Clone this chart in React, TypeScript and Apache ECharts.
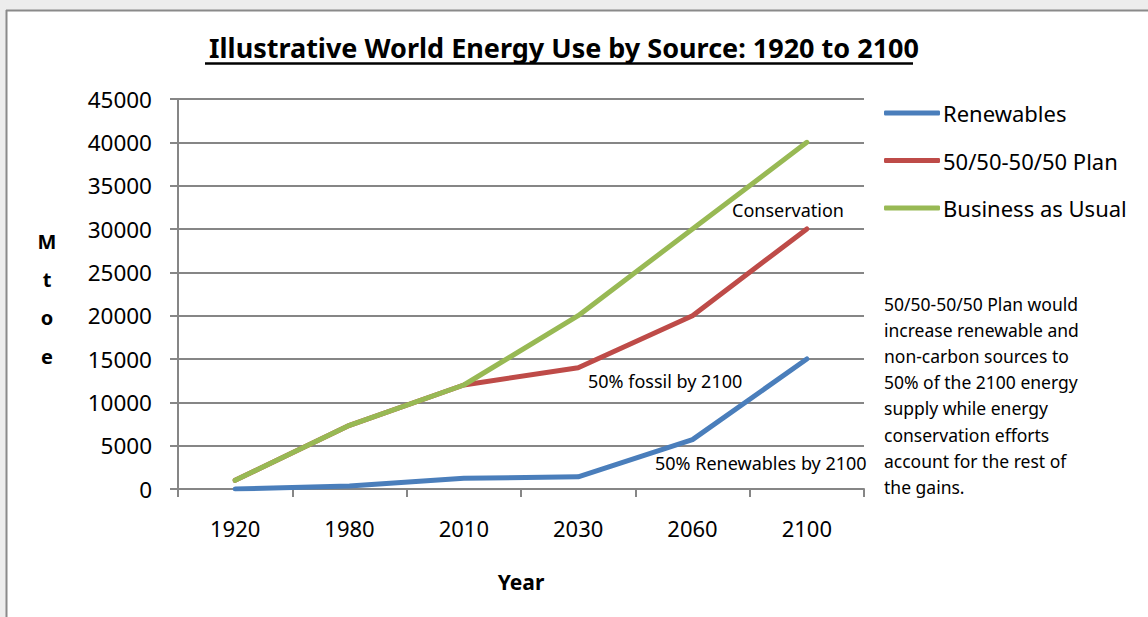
import React, { useEffect, useRef } from "react";
import * as echarts from "echarts";

const years = ["1920", "1980", "2010", "2030", "2060", "2100"];
const renewables = [0, 350, 1250, 1400, 5700, 15000];
const plan5050 = [1000, 7350, 12000, 14000, 20000, 30000];
const businessAsUsual = [1000, 7350, 12000, 20000, 30000, 40000];
const seriesNames = ["Renewables", "50/50-50/50 Plan", "Business as Usual"];
const seriesColors = ["#4a7ebb", "#be4b48", "#98b954"];
const titleText = "Illustrative World Energy Use by Source: 1920 to 2100";
const noteLines = [
  "50/50-50/50 Plan would",
  "increase renewable and",
  "non-carbon sources to",
  "50% of the 2100 energy",
  "supply while energy",
  "conservation efforts",
  "account for the rest of",
  "the gains.",
];

const FONT = "'Noto Sans', 'Open Sans', sans-serif";
const GRID_COLOR = "#868686";

export default function App() {
  const ref = useRef<HTMLDivElement>(null);

  useEffect(() => {
    if (!ref.current) return;
    const chart = echarts.init(ref.current, null, { renderer: "svg" });
    const data = [renewables, plan5050, businessAsUsual];
    chart.setOption({
      animation: false,
      backgroundColor: "#ffffff",
      textStyle: { fontFamily: FONT },
      title: {
        text: titleText,
        left: 559,
        textAlign: "center",
        top: 29,
        textStyle: { fontFamily: FONT, fontWeight: "bold", fontSize: 27, color: "#000" },
      },
      legend: {
        orient: "vertical",
        left: 879,
        top: 96,
        itemWidth: 56,
        itemHeight: 5,
        itemGap: 23.5,
        icon: "roundRect",
        data: seriesNames,
        textStyle: { fontFamily: FONT, fontSize: 22, color: "#000", lineHeight: 24, padding: [0, 0, 0, -2] },
      },
      grid: { left: 178, right: 284, top: 99, bottom: 128, containLabel: false },
      xAxis: {
        type: "category",
        data: years,
        boundaryGap: true,
        axisLine: { show: true, lineStyle: { color: GRID_COLOR, width: 2 } },
        axisTick: { show: true, length: 8, lineStyle: { color: GRID_COLOR, width: 2 } },
        axisLabel: { fontFamily: FONT, fontSize: 22, color: "#000", margin: 28 },
        name: "Year",
        nameLocation: "middle",
        nameGap: 82,
        nameTextStyle: { fontFamily: FONT, fontSize: 21, fontWeight: "bold", color: "#000" },
      },
      yAxis: {
        type: "value",
        min: 0,
        max: 45000,
        interval: 5000,
        axisLine: { show: true, lineStyle: { color: GRID_COLOR, width: 2 } },
        axisTick: { show: true, length: 8, lineStyle: { color: GRID_COLOR, width: 2 } },
        axisLabel: {
          fontFamily: FONT,
          fontSize: 22.5,
          color: "#000",
          margin: 26,
          formatter: (v: number) => String(v),
        },
        splitLine: { show: true, lineStyle: { color: GRID_COLOR, width: 2 } },
      },
      series: seriesNames.map((name, i) => ({
        name,
        type: "line",
        data: data[i],
        symbol: "none",
        color: seriesColors[i],
        lineStyle: { width: 5, color: seriesColors[i], cap: "round", join: "round" },
        z: 3 + i,
      })),
      graphic: [
        { type: "rect", shape: { x: 0, y: 0, width: 1148, height: 10 }, style: { fill: "#ededed" }, silent: true },
        { type: "rect", shape: { x: 0, y: 0, width: 6, height: 617 }, style: { fill: "#ededed" }, silent: true },
        { type: "line", shape: { x1: 6, y1: 10.5, x2: 1148, y2: 10.5 }, style: { stroke: "#8a8a8a", lineWidth: 2 }, silent: true },
        { type: "line", shape: { x1: 6.5, y1: 10, x2: 6.5, y2: 617 }, style: { stroke: "#8a8a8a", lineWidth: 2 }, silent: true },
        { type: "line", shape: { x1: 205, y1: 63.5, x2: 913, y2: 63.5 }, style: { stroke: "#000", lineWidth: 2.5 }, silent: true },
        {
          type: "text",
          x: 47,
          y: 222,
          style: {
            text: "M\nt\no\ne",
            fontFamily: FONT,
            fontSize: 20,
            fontWeight: "bold",
            lineHeight: 38.3,
            fill: "#000",
            align: "center",
            verticalAlign: "top",
          },
        },
        {
          type: "text",
          x: 732,
          y: 210,
          style: { text: "Conservation", fontFamily: FONT, fontSize: 18, fill: "#000", align: "left", verticalAlign: "middle" },
        },
        {
          type: "text",
          x: 588,
          y: 381,
          style: { text: "50% fossil by 2100", fontFamily: FONT, fontSize: 18, fill: "#000", align: "left", verticalAlign: "middle" },
        },
        {
          type: "text",
          x: 655,
          y: 463,
          style: { text: "50% Renewables by 2100", fontFamily: FONT, fontSize: 18, fill: "#000", align: "left", verticalAlign: "middle" },
        },
        {
          type: "text",
          x: 884,
          y: 291,
          style: {
            text: noteLines.join("\n"),
            fontFamily: FONT,
            fontSize: 17.5,
            lineHeight: 26.1,
            fill: "#000",
            align: "left",
            verticalAlign: "top",
          },
        },
      ],
    });
    return () => chart.dispose();
  }, []);

  return (
    <div
      ref={ref}
      style={{ position: "fixed", left: 0, top: 0, width: 1148, height: 617, background: "#fff" }}
    />
  );
}
